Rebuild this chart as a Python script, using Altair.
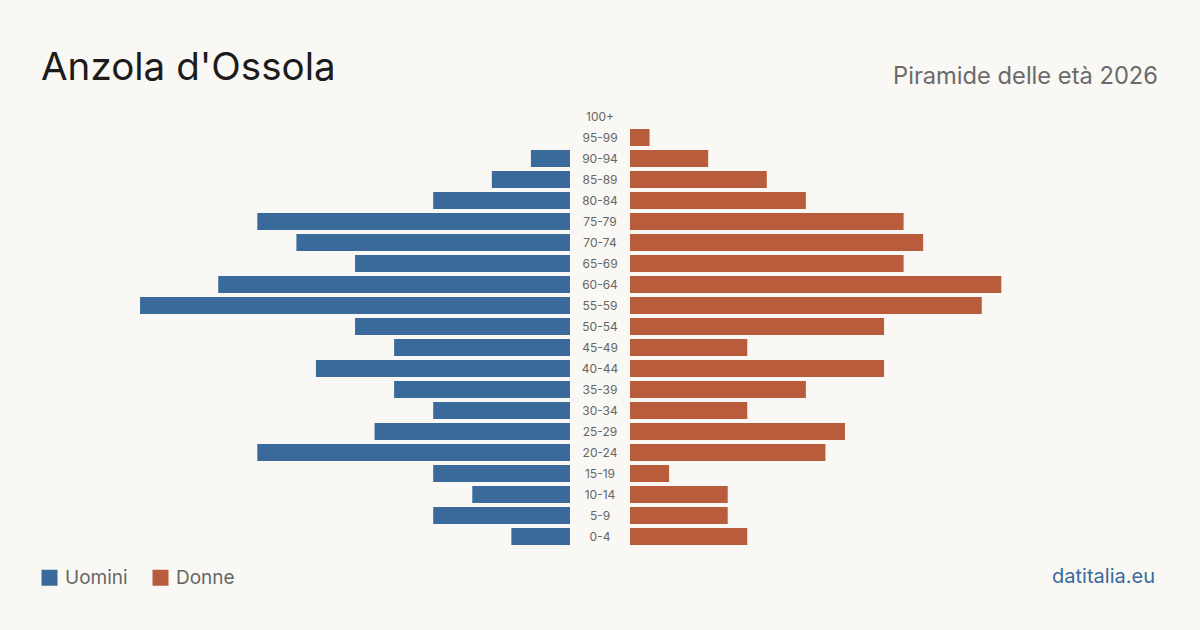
import altair as alt
import pandas as pd

# Age classes, top to bottom
ages = ["100+", "95-99", "90-94", "85-89", "80-84", "75-79", "70-74", "65-69",
        "60-64", "55-59", "50-54", "45-49", "40-44", "35-39", "30-34", "25-29",
        "20-24", "15-19", "10-14", "5-9", "0-4"]
uomini = [0, 0, 2, 4, 7, 16, 14, 11, 18, 22, 11, 9, 13, 9, 7, 10, 16, 7, 5, 7, 3]
donne = [0, 1, 4, 7, 9, 14, 15, 14, 19, 18, 13, 6, 13, 9, 6, 11, 10, 2, 5, 5, 6]

BLUE = "#3a6a9b"
ORANGE = "#b85c3c"
BG = "#f9f8f4"
FONT = "Inter"

PANEL_W = 530
MID_W = 60
PLOT_H = 441
X_MAX = 27.12

df = pd.DataFrame({
    "eta": ages * 2,
    "sesso": ["Uomini"] * len(ages) + ["Donne"] * len(ages),
    "valore": uomini + donne,
})

y_enc = alt.Y("eta:N", sort=ages, axis=None,
              scale=alt.Scale(paddingInner=0.19, paddingOuter=0.095))
color_scale = alt.Scale(domain=["Uomini", "Donne"], range=[BLUE, ORANGE])

left = alt.Chart(df).transform_filter(alt.datum.sesso == "Uomini").mark_bar().encode(
    x=alt.X("valore:Q", axis=None, scale=alt.Scale(domain=[0, X_MAX], reverse=True)),
    y=y_enc,
    color=alt.Color("sesso:N", scale=color_scale,
                    legend=alt.Legend(orient="none", legendX=0, legendY=568,
                                      direction="horizontal", title=None,
                                      symbolType="square", symbolSize=256,
                                      symbolStrokeWidth=0, symbolOpacity=1,
                                      labelFontSize=19, labelFont=FONT,
                                      labelColor="#666666", labelOffset=6,
                                      labelBaseline="middle",
                                      columnPadding=23, padding=0)),
).properties(width=PANEL_W, height=PLOT_H)

mid = alt.Chart(pd.DataFrame({"eta": ages})).mark_text(
    font=FONT, fontSize=12, color="#666666", align="center", baseline="middle"
).encode(
    x=alt.value(MID_W / 2),
    y=y_enc,
    text="eta:N",
).properties(width=MID_W, height=PLOT_H)

right = alt.Chart(df).transform_filter(alt.datum.sesso == "Donne").mark_bar().encode(
    x=alt.X("valore:Q", axis=None, scale=alt.Scale(domain=[0, X_MAX])),
    y=y_enc,
    color=alt.Color("sesso:N", scale=color_scale),
).properties(width=PANEL_W, height=PLOT_H)

pyramid = alt.hconcat(left, mid, right, spacing=0)

header_df = pd.DataFrame({"titolo": ["Anzola d'Ossola"], "sottotitolo": ["Piramide delle età 2026"]})
title_mark = alt.Chart(header_df).mark_text(
    font=FONT, fontSize=38.6, color="#1c1c1c", align="left", baseline="alphabetic"
).encode(x=alt.value(1), y=alt.value(80), text="titolo:N")
subtitle_mark = alt.Chart(header_df).mark_text(
    font=FONT, fontSize=23.7, color="#6b6b6b", align="right", baseline="alphabetic"
).encode(x=alt.value(2 * PANEL_W + MID_W - 2), y=alt.value(84), text="sottotitolo:N")
header = alt.layer(title_mark, subtitle_mark).properties(
    width=2 * PANEL_W + MID_W, height=106)

footer_df = pd.DataFrame({"fonte": ["datitalia.eu"]})
footer = alt.Chart(footer_df).mark_text(
    font=FONT, fontSize=20, color=BLUE, align="right", baseline="alphabetic"
).encode(x=alt.value(2 * PANEL_W + MID_W - 5), y=alt.value(36), text="fonte:N").properties(
    width=2 * PANEL_W + MID_W, height=83)

chart = alt.vconcat(header, pyramid, footer, spacing=0).properties(
    background=BG,
    padding={"left": 40, "right": 40, "top": 0, "bottom": 0},
).configure_view(stroke=None).configure_concat(spacing=0)

chart.save("out.html", embed_options={"renderer": "svg", "actions": False})
